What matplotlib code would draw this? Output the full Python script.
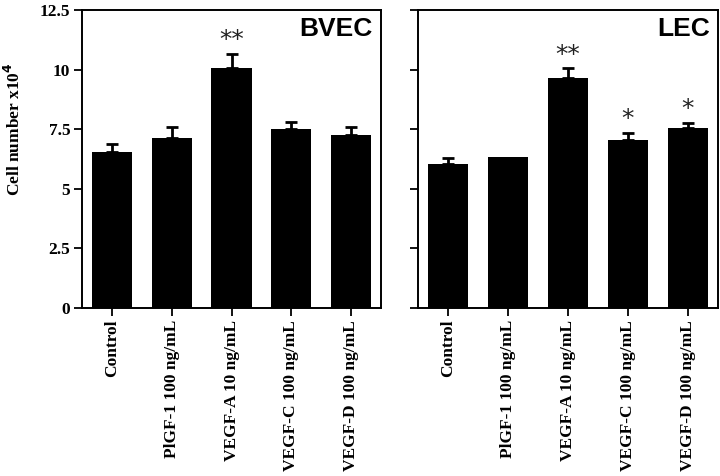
import matplotlib.pyplot as plt
import numpy as np

# data (cell number x10^4)
categories = ["Control", "PlGF-1 100 ng/mL", "VEGF-A 10 ng/mL",
              "VEGF-C 100 ng/mL", "VEGF-D 100 ng/mL"]
bvec_mean = [6.56, 7.14, 10.08, 7.52, 7.27]
bvec_err = [0.32, 0.46, 0.57, 0.29, 0.33]
bvec_stars = ["", "", "**", "", ""]
lec_mean = [6.03, 6.33, 9.66, 7.03, 7.54]
lec_err = [0.25, 0.0, 0.39, 0.30, 0.21]
lec_stars = ["", "", "**", "*", "*"]
yticks = [0, 2.5, 5, 7.5, 10, 12.5]
ytick_labels = ["0", "2.5", "5", "7.5", "10", "12.5"]

serif = "Liberation Serif"

fig = plt.figure(figsize=(7.2, 4.76), dpi=100)
ax1 = fig.add_axes([82 / 720, 1 - 308 / 476, 299 / 720, 298 / 476])
ax2 = fig.add_axes([418 / 720, 1 - 308 / 476, 300 / 720, 298 / 476])


def draw_panel(ax, means, errs, stars, title, show_ylabels):
    x = np.arange(len(categories))
    means = np.array(means)
    errs = np.array(errs)
    ax.bar(x, means, width=0.67, color="black", zorder=2)
    # only upper error bars, skip the ones with no error
    has = errs > 0
    ax.errorbar(x[has], means[has], yerr=[np.zeros(has.sum()), errs[has]],
                fmt="none", ecolor="black", elinewidth=2, capsize=4,
                capthick=2, zorder=1)
    for xi, m, e, s in zip(x, means, errs, stars):
        if s:
            ax.annotate(s, (xi, m + e), xytext=(0, 10), textcoords="offset points",
                        ha="center", va="center", fontsize=18,
                        family="DejaVu Sans", color="#222222")
    ax.set_xlim(-0.5, 4.5)
    ax.set_ylim(0, 12.5)
    ax.set_xticks(x)
    ax.set_xticklabels(categories, rotation=90, family=serif,
                       fontweight="bold", fontsize=12.5)
    ax.set_yticks(yticks)
    if show_ylabels:
        ax.set_yticklabels(ytick_labels, family=serif, fontweight="bold",
                           fontsize=12.5)
    else:
        ax.set_yticklabels([])
    ax.tick_params(axis="both", direction="out", length=5.5, width=1.3, pad=3)
    for sp in ax.spines.values():
        sp.set_linewidth(1.4)
    ax.text(0.972, 0.975, title, transform=ax.transAxes, ha="right", va="top",
            fontsize=19, fontweight="bold", family="Liberation Sans")


draw_panel(ax1, bvec_mean, bvec_err, bvec_stars, "BVEC", True)
draw_panel(ax2, lec_mean, lec_err, lec_stars, "LEC", False)

ax1.set_ylabel("Cell number x10$^{\\mathbf{4}}$", family=serif,
               fontweight="bold", fontsize=12.5)
ax1.yaxis.set_label_coords(-0.195, 0.6)

fig.savefig("out.png", dpi=100)
